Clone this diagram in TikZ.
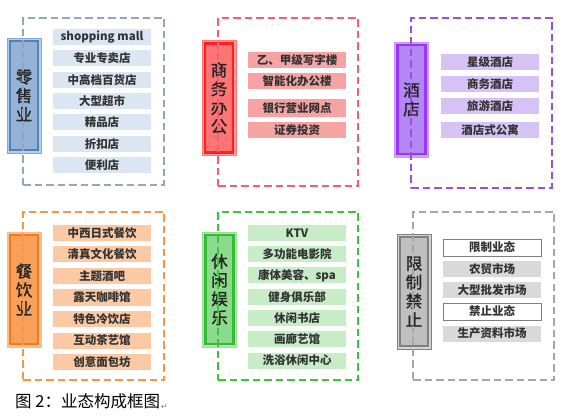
\documentclass[tikz,border=0pt]{standalone}
\usepackage{fontspec}
\setmainfont{Noto Sans CJK SC}
\newfontfamily\symfont{DejaVu Sans}
\newfontfamily\ttlfont[FakeBold=1.6]{Noto Sans CJK SC}
\definecolor{rdash}{HTML}{8FA6C4}\definecolor{rbd}{HTML}{4F81BD}\definecolor{rlt}{HTML}{B9CDE5}\definecolor{rmd}{HTML}{95B3D7}\definecolor{ritem}{HTML}{DCE6F2}
\definecolor{bdash}{HTML}{F0607A}\definecolor{bbd}{HTML}{FF2020}\definecolor{blt}{HTML}{FF9B9B}\definecolor{bmd}{HTML}{FF7474}\definecolor{bitem}{HTML}{F5A3A3}
\definecolor{hdash}{HTML}{9D4EDD}\definecolor{hbd}{HTML}{9933FF}\definecolor{hlt}{HTML}{CDA8F8}\definecolor{hmd}{HTML}{B488F2}\definecolor{hitem}{HTML}{D7C2F5}
\definecolor{cdash}{HTML}{F79646}\definecolor{cbd}{HTML}{F57A1E}\definecolor{clt}{HTML}{FAC08F}\definecolor{cmd}{HTML}{F8A05A}\definecolor{citem}{HTML}{FBCAA4}
\definecolor{ldash}{HTML}{3DC43D}\definecolor{lbd}{HTML}{33BB33}\definecolor{llt}{HTML}{B0E8B0}\definecolor{lmd}{HTML}{8CDA8C}\definecolor{litem}{HTML}{C6EDC6}
\definecolor{gdash}{HTML}{A6A6A6}\definecolor{gbd}{HTML}{808080}\definecolor{glt}{HTML}{D4D4D4}\definecolor{gmd}{HTML}{BFBFBF}\definecolor{gitem}{HTML}{D9D9D9}
\begin{document}
\begin{tikzpicture}[x=1pt,y=-1pt,
  item/.style={minimum width=98pt, minimum height=16pt, inner sep=0pt, font=\fontsize{11.5}{12}\selectfont\bfseries, text=black!80},
  ttlout/.style={minimum width=34pt, minimum height=115pt, inner sep=0pt, line width=0.8pt},
  ttlin/.style={minimum width=28pt, minimum height=109pt, inner sep=0pt, line width=2.3pt, align=center, font=\ttlfont\fontsize{16.5}{18.8}\selectfont, text=black!85},
  dbox/.style={line width=1.8pt, dash pattern=on 7.5pt off 4pt, inner sep=0pt},
]
\useasboundingbox[fill=white] (0,0) rectangle (563,417);
% Retail
\node[ttlout, draw=rbd!70, fill=rlt] (rt) at (24,95.5) {};
\node[ttlin, draw=rbd, fill=rmd] (rtt) at (rt.center) {零\\售\\业};
\foreach \t [count=\i] in {shopping mall,专业专卖店,中高档百货店,大型超市,精品店,折扣店,便利店}
  \node[item, fill=ritem] (r\i) at (102,{37+21.33*(\i-1)}) {\t};
\node[dbox, draw=rdash, minimum width=141pt, minimum height=167pt] (rg) at (93.5,101.5) {};
% Business
\node[ttlout, draw=bbd!60, fill=blt] (bt) at (219,98) {};
\node[ttlin, draw=bbd, fill=bmd] (btt) at (bt.center) {商\\务\\办\\公};
\node[item, fill=bitem] (b1) at (297,60.5) {乙、甲级写字楼};
\node[item, fill=bitem] (b2) at (297,81) {智能化办公楼};
\node[item, fill=bitem, minimum height=18pt] (b3) at (297,108) {银行营业网点};
\node[item, fill=bitem] (b4) at (297,130) {证券投资};
\node[dbox, draw=bdash, minimum width=140pt, minimum height=168pt] (bg) at (288,102) {};
% Hotel
\node[ttlout, draw=hbd!50, fill=hlt] (ht) at (411.5,99.5) {};
\node[ttlin, draw=hbd, fill=hmd] (htt) at (ht.center) {酒\\店};
\node[item, fill=hitem] (h1) at (490,62.5) {星级酒店};
\node[item, fill=hitem] (h2) at (490,84) {商务酒店};
\node[item, fill=hitem] (h3) at (490,106) {旅游酒店};
\node[item, fill=hitem] (h4) at (490,130) {酒店式公寓};
\node[dbox, draw=hdash, minimum width=141pt, minimum height=170pt] (hg) at (481.5,103) {};
% Catering
\node[ttlout, draw=cbd!50, fill=clt] (ct) at (24,289.5) {};
\node[ttlin, draw=cbd, fill=cmd] (ctt) at (ct.center) {餐\\饮\\业};
\foreach \t [count=\i] in {中西日式餐饮,清真文化餐饮,主题酒吧,露天咖啡馆,特色冷饮店,互动茶艺馆,创意面包坊}
  \node[item, fill=citem] (c\i) at (102,{233+21.5*(\i-1)}) {\t};
\node[dbox, draw=cdash, minimum width=141pt, minimum height=168pt] (cg) at (93.5,296) {};
% Leisure
\node[ttlout, draw=lbd!50, fill=llt] (lt) at (219.5,289.5) {};
\node[ttlin, draw=lbd, fill=lmd] (ltt) at (lt.center) {休\\闲\\娱\\乐};
\foreach \t [count=\i] in {KTV,多功能电影院,康体美容、spa,健身俱乐部,休闲书店,画廊艺馆,洗浴休闲中心}
  \node[item, fill=litem] (l\i) at (297,{233+21.25*(\i-1)}) {\t};
\node[dbox, draw=ldash, minimum width=140pt, minimum height=168pt] (lg) at (288,296) {};
% Restricted
\node[ttlout, draw=gbd, fill=glt] (gt) at (414,291.5) {};
\node[ttlin, draw=gbd, fill=gmd] (gtt) at (gt.center) {限\\制\\禁\\止};
\node[item, fill=white, draw=gbd, line width=0.8pt, minimum height=17pt] (g1) at (492,247.5) {限制业态};
\node[item, fill=gitem] (g2) at (492,269.5) {农贸市场};
\node[item, fill=gitem] (g3) at (492,290) {大型批发市场};
\node[item, fill=white, draw=gbd, line width=0.8pt, minimum height=17pt] (g4) at (492,311.5) {禁止业态};
\node[item, fill=gitem] (g5) at (492,333.5) {生产资料市场};
\node[dbox, draw=gdash, line width=1.4pt, minimum width=141pt, minimum height=168pt] (gg) at (483.5,296) {};
% Caption
\node[anchor=west, inner sep=0pt, font=\fontsize{16.5}{17}\selectfont] (cap) at (15,401) {图 2：业态构成框图};
\node[anchor=south west, inner sep=0pt, font=\symfont\fontsize{8}{8}\selectfont, text=gray] (capr) at ([xshift=0.5pt,yshift=-1pt]cap.south east) {↵};
\end{tikzpicture}
\end{document}
